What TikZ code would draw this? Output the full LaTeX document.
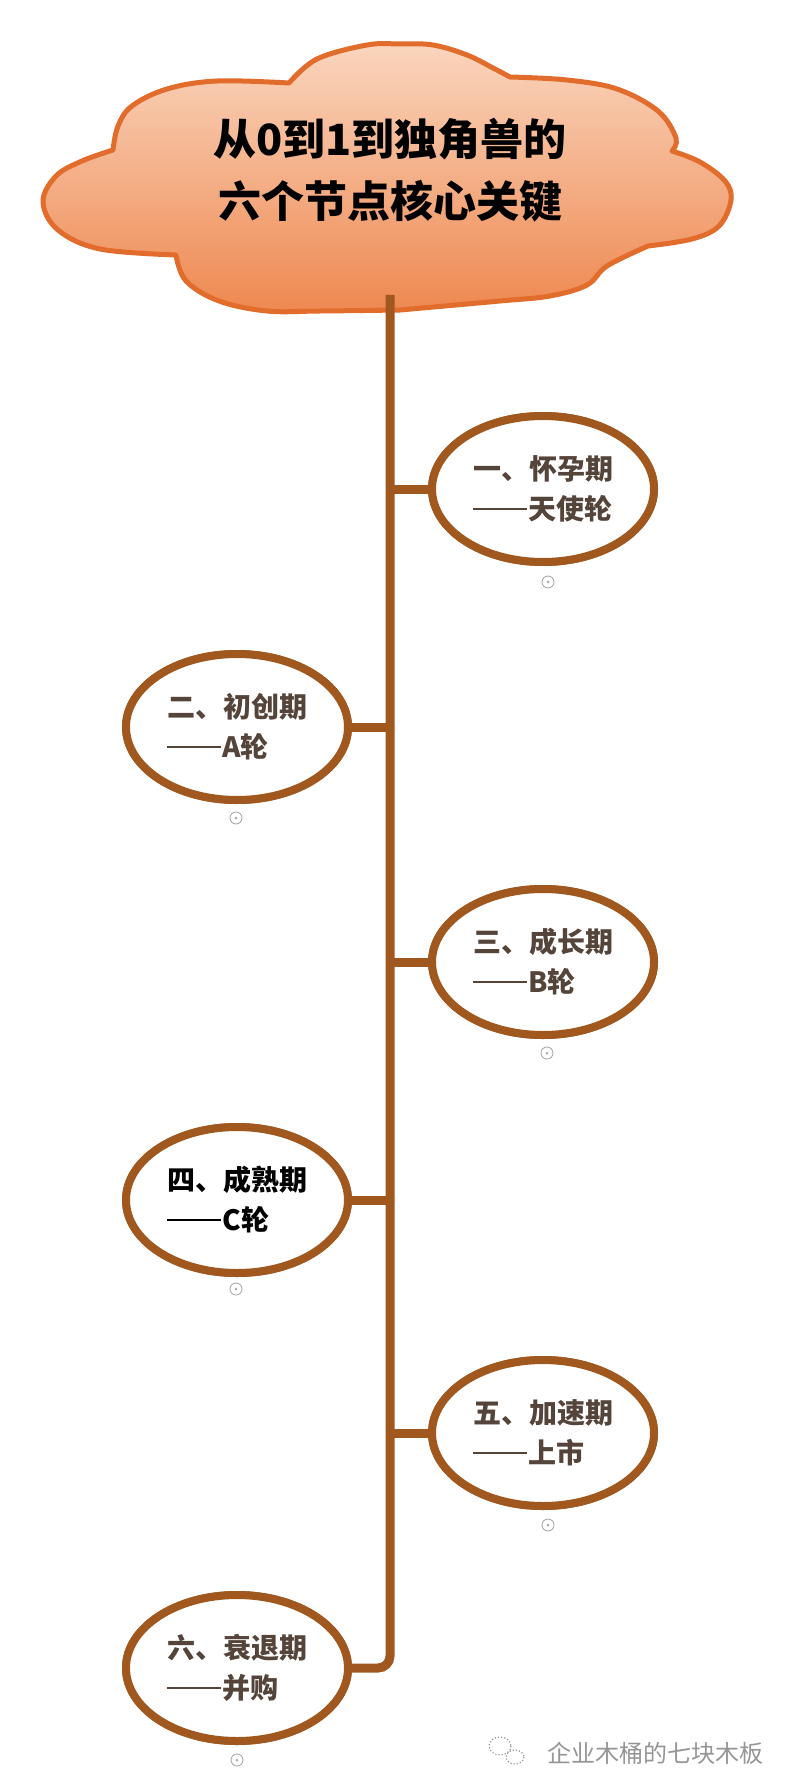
\documentclass[tikz,border=0pt]{standalone}
\usepackage{fontspec}
\newfontfamily\cjk{Noto Sans CJK SC}
\usetikzlibrary{shapes.geometric}
\definecolor{cloudtop}{RGB}{250,214,190}
\definecolor{cloudbot}{RGB}{238,136,80}
\definecolor{cloudline}{RGB}{226,108,44}
\definecolor{brownline}{RGB}{160,88,30}
\definecolor{stagetext}{RGB}{84,68,58}
\definecolor{marktext}{RGB}{150,150,150}
\newcommand\lineddash{\raisebox{0.34em}{\rule{1.92em}{0.085em}}\hspace{0.06em}}
\begin{document}
\begin{tikzpicture}[x=0.5pt,y=-0.5pt,
  stagebox/.style={ellipse, draw=brownline, line width=4pt, fill=white,
    minimum width=111pt, minimum height=73pt, inner sep=0pt, align=left,
    text=stagetext, font=\cjk\bfseries\fontsize{14pt}{20pt}\selectfont},
  expander/.style={circle, draw=gray!65, line width=0.45pt, minimum size=6pt, inner sep=0pt,
    path picture={\fill[gray!65] (path picture bounding box.center) circle (0.75pt);}},
  trunkline/.style={draw=brownline, line width=4.5pt},
  titletext/.style={font=\cjk\bfseries\fontsize{21.5pt}{31pt}\selectfont, align=center, text=black}]
\useasboundingbox (0,0) rectangle (800,1792);
\fill[white] (0,0) rectangle (800,1792);

\coordinate (top) at (390,295);

% cloud
\draw[line width=2.5pt, draw=cloudline, top color=cloudtop, bottom color=cloudbot, line join=round]
  plot[smooth, tension=0.6] coordinates {(113,150) (118,126) (132,106) (167,89) (217,81) (289,83)}
  -- plot[smooth, tension=0.6] coordinates {(289,83) (317,59) (367,45) (400,44) (433,45) (467,55) (493,68) (510,77)}
  -- plot[smooth, tension=0.6] coordinates {(510,77) (567,80) (617,89) (658,111) (676,138) (672,151)}
  -- plot[smooth, tension=0.6] coordinates {(672,151) (700,162) (725,181) (731,200) (719,226) (692,239) (648,246)}
  -- plot[smooth, tension=0.6] coordinates {(648,246) (607,266) (587,285) (550,296) (500,301) (400,310)}
  -- plot[smooth, tension=0.6] coordinates {(400,310) (320,311) (267,311) (219,301) (186,281) (176,255)}
  -- plot[smooth, tension=0.6] coordinates {(176,255) (100,249) (58,230) (43,202) (56,176) (82,161) (113,150)}
  -- cycle;
\node[titletext] (title) at (390,170) {从0到1到独角兽的\\六个节点核心关键};

% stage ovals
\node[stagebox] (n1) at (543,489) {一、怀孕期\\\lineddash 天使轮};
\node[stagebox] (n2) at (237,727) {二、初创期\\\lineddash A轮};
\node[stagebox] (n3) at (543,962) {三、成长期\\\lineddash B轮};
\node[stagebox, text=black] (n4) at (237,1200) {四、成熟期\\\lineddash C轮};
\node[stagebox] (n5) at (543,1433) {五、加速期\\\lineddash 上市};
\node[stagebox] (n6) at (237,1668) {六、衰退期\\\lineddash 并购};

% trunk and branches, then ovals drawn again on top
\draw[trunkline, rounded corners=6pt] (top) |- (n6.east);
\foreach \n in {n1,n2,n3,n4,n5} {
  \draw[trunkline] (\n) -- (\n -| top);
}
\node[stagebox] at (n1) {一、怀孕期\\\lineddash 天使轮};
\node[stagebox] at (n2) {二、初创期\\\lineddash A轮};
\node[stagebox] at (n3) {三、成长期\\\lineddash B轮};
\node[stagebox, text=black] at (n4) {四、成熟期\\\lineddash C轮};
\node[stagebox] at (n5) {五、加速期\\\lineddash 上市};
\node[stagebox] at (n6) {六、衰退期\\\lineddash 并购};

% expand markers
\node[expander] (e1) at (548,582) {};
\node[expander] (e2) at (236,818) {};
\node[expander] (e3) at (547,1053) {};
\node[expander] (e4) at (236,1289) {};
\node[expander] (e5) at (548,1525) {};
\node[expander] (e6) at (237,1760) {};

% watermark
\draw[marktext, line width=0.6pt, densely dotted] (500,1746) ellipse (11 and 9);
\draw[marktext, line width=0.6pt, densely dotted] (515,1757) ellipse (9 and 7);
\node[font=\cjk\fontsize{12pt}{14pt}\selectfont, text=marktext, anchor=west] (wm) at (540,1753) {企业木桶的七块木板};
\end{tikzpicture}
\end{document}
